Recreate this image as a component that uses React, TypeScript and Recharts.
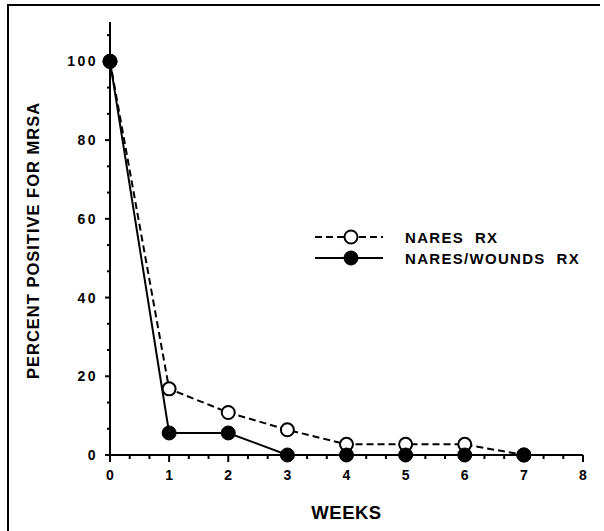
import React from "react";
import { LineChart, Line, XAxis, YAxis } from "recharts";

const WEEKS = [0, 1, 2, 3, 4, 5, 6, 7];
const NARES_RX = [100, 16.8, 10.8, 6.4, 2.7, 2.7, 2.7, 0];
const NARES_WOUNDS_RX = [100, 5.6, 5.6, 0, 0, 0, 0, 0];
const X_MAJOR = [0, 1, 2, 3, 4, 5, 6, 7, 8];
const Y_MAJOR = [0, 20, 40, 60, 80, 100];
const SERIES_NAMES = ["NARES  RX", "NARES/WOUNDS  RX"];

const data = WEEKS.map((w, i) => ({ week: w, nares: NARES_RX[i], wounds: NARES_WOUNDS_RX[i] }));

const xTicks: number[] = [];
for (let i = 0; i <= 24; i++) xTicks.push(i / 3);
const yTicks: number[] = [];
for (let i = 0; i <= 16; i++) yTicks.push((i * 20) / 3);

const FONT = "'Liberation Sans', Arial, Helvetica, sans-serif";
const isMajor = (v: number, list: number[]) => list.some((m) => Math.abs(m - v) < 1e-6);

const XTick = (props: any) => {
  const { x, y, payload } = props;
  const major = isMajor(payload.value, X_MAJOR);
  return (
    <g>
      <line x1={x} x2={x} y1={y} y2={y + (major ? 7 : 4)} stroke="#000" strokeWidth={2} />
      {major && (
        <text x={x} y={y + 25} textAnchor="middle" fontFamily={FONT} fontWeight="bold" fontSize={14} fill="#000">
          {Math.round(payload.value)}
        </text>
      )}
    </g>
  );
};

const YTick = (props: any) => {
  const { x, y, payload } = props;
  const major = isMajor(payload.value, Y_MAJOR);
  return (
    <g>
      <line x1={x} x2={x - (major ? 5 : 3)} y1={y} y2={y} stroke="#000" strokeWidth={2} />
      {major && (
        <text x={x - 12} y={y + 5} textAnchor="end" fontFamily={FONT} fontWeight="bold" fontSize={14} letterSpacing={2.5} fill="#000">
          {Math.round(payload.value)}
        </text>
      )}
    </g>
  );
};

const LegendBox = () => (
  <svg width={290} height={50} style={{ position: "absolute", left: 310, top: 225, overflow: "visible" }}>
    <g>
      <line x1={5} x2={73} y1={12} y2={12} stroke="#000" strokeWidth={2} strokeDasharray="7 4" />
      <circle cx={41} cy={12} r={6.5} fill="#fff" stroke="#000" strokeWidth={2} />
      <text x={95} y={17.5} fontFamily={FONT} fontWeight="bold" fontSize={15} letterSpacing={1.3} fill="#000" style={{ whiteSpace: "pre" }}>
        {SERIES_NAMES[0]}
      </text>
    </g>
    <g>
      <line x1={5} x2={73} y1={33} y2={33} stroke="#000" strokeWidth={2} />
      <circle cx={41} cy={33} r={7} fill="#000" stroke="#000" strokeWidth={1} />
      <text x={95} y={38.5} fontFamily={FONT} fontWeight="bold" fontSize={15} letterSpacing={1.3} fill="#000" style={{ whiteSpace: "pre" }}>
        {SERIES_NAMES[1]}
      </text>
    </g>
  </svg>
);

export default function App() {
  return (
    <div style={{ position: "absolute", left: 0, top: 0, width: 600, height: 531, background: "#fff", overflow: "hidden" }}>
      <div
        style={{
          position: "absolute",
          left: 7,
          top: 4,
          width: 593,
          height: 527,
          borderTop: "2px solid #000",
          borderLeft: "2px solid #000",
          boxSizing: "border-box",
        }}
      />
      <LineChart
        width={600}
        height={531}
        data={data}
        margin={{ top: 22, right: 17, bottom: 0, left: 0 }}
        style={{ position: "absolute", left: 0, top: 0 }}
      >
        <XAxis
          dataKey="week"
          type="number"
          domain={[0, 8]}
          ticks={xTicks}
          interval={0}
          height={76}
          tickLine={false}
          tickSize={0}
          tickMargin={0}
          tick={<XTick />}
          axisLine={{ stroke: "#000", strokeWidth: 2 }}
          label={{
            content: (p: any) => {
              const vb = p.viewBox;
              return (
                <text x={vb.x + vb.width / 2} y={vb.y + 64} textAnchor="middle" fontFamily={FONT} fontWeight="bold" fontSize={18.5} letterSpacing={0.5} fill="#000">
                  WEEKS
                </text>
              );
            },
          }}
        />
        <YAxis
          type="number"
          domain={[0, 110]}
          ticks={yTicks}
          interval={0}
          width={110}
          tickLine={false}
          tickSize={0}
          tickMargin={0}
          tick={<YTick />}
          axisLine={{ stroke: "#000", strokeWidth: 2 }}
          label={{
            content: (p: any) => {
              const vb = p.viewBox;
              const cx = vb.x + 33;
              const cy = vb.y + vb.height / 2 + 2;
              return (
                <text x={cx} y={cy} textAnchor="middle" dominantBaseline="central" transform={`rotate(-90 ${cx} ${cy})`} fontFamily={FONT} fontWeight="bold" fontSize={16.5} letterSpacing={1} fill="#000">
                  PERCENT POSITIVE FOR MRSA
                </text>
              );
            },
          }}
        />
        <Line
          dataKey="nares"
          name={SERIES_NAMES[0]}
          stroke="#000"
          strokeWidth={2}
          strokeDasharray="7 4"
          dot={{ r: 6.5, fill: "#fff", stroke: "#000", strokeWidth: 2, strokeDasharray: "" }}
          isAnimationActive={false}
        />
        <Line
          dataKey="wounds"
          name={SERIES_NAMES[1]}
          stroke="#000"
          strokeWidth={2}
          dot={{ r: 7, fill: "#000", stroke: "#000", strokeWidth: 1 }}
          isAnimationActive={false}
        />
      </LineChart>
      <LegendBox />
    </div>
  );
}
